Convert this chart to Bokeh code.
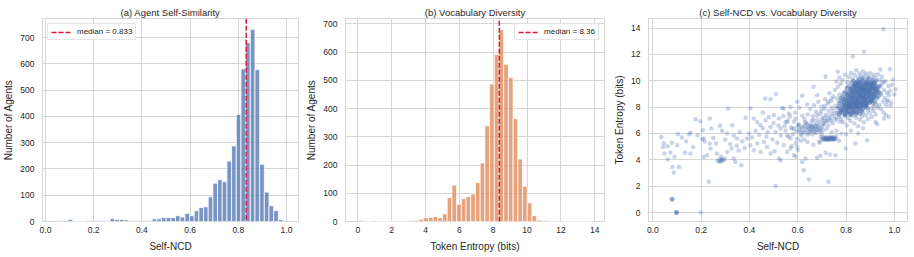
from bokeh.plotting import figure
from bokeh.layouts import row
from bokeh.models import FixedTicker, NumeralTickFormatter, Range1d
from bokeh.embed import file_html
from bokeh.resources import INLINE

FONT = "Liberation Sans"
TXT = "#262626"
GRID = "#d6d6d6"
BLUE = "#4C72B0"
ORANGE = "#DD8452"
RED = "#DC143C"

# ---------------- data ----------------
# (a) Self-NCD histogram: 50 bins between lo and hi
ncd_bin_lo, ncd_bin_hi = 0.035, 1.005
ncd_counts = [3, 3, 3, 8, 1, 1, 1, 3, 3, 3,
              4, 1, 11, 8, 8, 6, 3, 3, 3, 4,
              4, 10, 10, 15, 15, 15, 22, 17, 31, 22,
              41, 53, 56, 94, 146, 159, 151, 230, 288, 408,
              581, 681, 732, 578, 218, 112, 60, 42, 8, 4]
ncd_median = 0.833
ncd_legend = "median = 0.833"

# (b) Token entropy histogram: 50 bins between lo and hi
ent_bin_lo, ent_bin_hi = 0.0, 13.9
ent_counts = [4, 0, 0, 2, 0, 0, 0, 1, 2, 1,
              2, 3, 4, 8, 14, 15, 18, 14, 27, 85,
              129, 61, 81, 88, 97, 138, 207, 339, 487, 592,
              679, 557, 510, 364, 221, 125, 66, 21, 5, 4,
              2, 1, 1, 1, 0, 0, 0, 0, 0, 1]
ent_median = 8.36
ent_legend = "median = 8.36"

# (c) scatter: (Self-NCD, Token Entropy)
tail_pts = [
    (0.035, 5.74), (0.046, 5.26), (0.043, 4.98), (0.062, 5.03), (0.079, 5.29), (0.101, 5.11),
    (0.104, 5.95), (0.156, 6.05), (0.138, 5.41), (0.133, 4.53), (0.073, 4.55), (0.048, 4.48),
    (0.062, 4.02), (0.090, 4.23), (0.081, 3.46), (0.109, 3.46), (0.087, 3.03), (0.167, 4.98),
    (0.156, 4.48), (0.204, 5.57), (0.211, 5.62), (0.177, 7.08), (0.197, 6.93), (0.236, 7.14),
    (0.207, 6.25), (0.242, 6.38), (0.278, 6.58), (0.287, 6.20), (0.308, 6.00), (0.329, 6.63),
    (0.335, 5.82), (0.349, 5.62), (0.360, 6.12), (0.262, 5.24), (0.239, 4.86), (0.225, 4.35),
    (0.211, 4.22), (0.236, 5.24), (0.266, 4.48), (0.283, 4.23), (0.268, 3.92), (0.275, 4.02),
    (0.281, 3.88), (0.287, 4.05), (0.293, 3.95), (0.299, 4.08), (0.284, 3.98), (0.277, 3.85),
    (0.335, 4.10), (0.342, 3.84), (0.366, 3.59), (0.308, 4.60), (0.326, 4.86), (0.347, 5.06),
    (0.370, 5.41), (0.390, 5.62), (0.398, 6.00), (0.404, 7.92), (0.312, 7.90), (0.384, 7.19),
    (0.418, 7.14), (0.432, 6.88), (0.446, 6.63), (0.467, 7.01), (0.480, 7.26), (0.487, 6.50),
    (0.501, 7.39), (0.508, 6.12), (0.522, 7.14), (0.529, 6.38), (0.542, 7.90), (0.549, 6.88),
    (0.563, 7.52), (0.556, 5.87), (0.570, 5.62), (0.577, 6.38), (0.591, 7.14), (0.598, 8.40),
    (0.604, 6.63), (0.611, 6.00), (0.404, 5.11), (0.418, 4.73), (0.432, 5.24), (0.446, 4.60),
    (0.460, 5.36), (0.473, 4.98), (0.487, 4.48), (0.504, 4.65), (0.522, 4.10), (0.529, 3.97),
    (0.542, 5.11), (0.556, 4.60), (0.570, 4.86), (0.584, 4.35), (0.598, 4.98), (0.592, 4.23),
    (0.618, 3.84), (0.632, 4.10), (0.625, 3.21), (0.646, 2.50), (0.508, 2.02), (0.727, 2.33),
    (0.232, 2.33), (0.680, 4.15), (0.694, 4.30), (0.715, 4.53), (0.733, 4.40), (0.756, 4.35),
    (0.798, 4.86), (0.839, 5.24), (0.887, 5.49), (0.922, 6.88), (0.957, 7.14), (0.977, 7.26),
    (0.984, 8.10), (0.487, 8.60), (0.510, 9.00), (0.465, 8.65), (0.535, 7.94), (0.570, 8.02),
    (0.618, 8.86), (0.639, 8.20), (0.665, 9.54), (0.680, 8.90), (0.715, 10.30), (0.766, 10.68),
    (0.828, 11.87), (0.874, 12.20), (0.954, 13.92), (0.942, 10.86), (0.981, 10.88), (0.994, 10.10),
    (1.005, 9.36), (1.000, 8.96), (0.970, 8.40),
    (0.080, 1.00), (0.080, 1.00), (0.080, 1.00),
    (0.098, 0.00), (0.098, 0.00), (0.098, 0.00), (0.098, 0.00), (0.199, 0.00),
    (0.120, 5.70), (0.150, 5.95), (0.185, 5.85), (0.215, 5.40), (0.250, 5.65), (0.300, 5.55),
    (0.320, 5.20), (0.355, 4.70), (0.380, 4.90), (0.410, 5.70), (0.425, 6.20), (0.440, 5.90),
    (0.455, 6.40), (0.470, 5.75), (0.495, 5.55), (0.515, 5.30), (0.530, 5.85), (0.545, 6.55),
    (0.455, 7.60), (0.475, 6.10), (0.500, 6.80), (0.520, 6.60), (0.540, 7.30), (0.560, 7.00),
]

mid_pts = [
    (0.550, 6.20), (0.556, 6.85), (0.562, 5.75), (0.568, 7.30), (0.573, 6.45), (0.579, 5.95),
    (0.584, 6.90), (0.589, 7.60), (0.594, 6.15), (0.598, 5.60), (0.603, 6.70), (0.607, 7.95),
    (0.611, 6.30), (0.615, 5.85), (0.619, 7.35), (0.623, 6.05), (0.627, 5.55), (0.631, 6.55),
    (0.636, 6.25), (0.640, 5.90), (0.645, 6.45), (0.650, 6.10), (0.655, 6.65), (0.660, 5.95),
    (0.664, 6.35), (0.669, 6.20), (0.673, 6.50), (0.678, 6.05), (0.682, 6.30), (0.686, 6.60),
    (0.690, 6.15), (0.695, 6.40), (0.700, 5.95), (0.705, 6.25), (0.640, 6.70), (0.660, 6.55),
    (0.675, 6.75), (0.655, 6.30), (0.630, 6.85), (0.612, 5.45), (0.592, 5.25), (0.575, 5.05),
    (0.600, 4.75), (0.640, 5.35), (0.665, 5.15), (0.690, 5.30), (0.600, 6.55), (0.585, 6.35),
    (0.700, 5.60), (0.705, 5.68), (0.709, 5.55), (0.713, 5.72), (0.716, 5.62), (0.720, 5.50),
    (0.723, 5.66), (0.727, 5.58), (0.730, 5.74), (0.733, 5.53), (0.736, 5.64), (0.739, 5.70),
    (0.742, 5.57), (0.745, 5.65), (0.748, 5.52), (0.751, 5.69), (0.754, 5.61), (0.757, 5.56),
    (0.711, 5.64), (0.718, 5.70), (0.725, 5.52), (0.731, 5.62), (0.737, 5.55), (0.744, 5.72),
    (0.750, 5.60), (0.706, 5.52), (0.722, 5.60), (0.734, 5.68), (0.746, 5.58), (0.715, 5.57),
    (0.690, 5.40), (0.760, 5.80), (0.770, 5.45), (0.695, 5.75), (0.780, 6.00), (0.800, 5.95),
    (0.760, 6.20), (0.740, 6.10), (0.720, 6.35), (0.820, 6.20), (0.850, 6.00), (0.870, 6.40),
    (0.605, 6.22), (0.617, 6.41), (0.624, 6.12), (0.633, 6.37), (0.643, 6.04), (0.649, 6.57),
    (0.654, 6.21), (0.662, 6.47), (0.669, 6.08), (0.677, 6.33), (0.683, 6.51), (0.693, 6.24),
    (0.701, 6.55), (0.709, 6.76), (0.714, 6.93), (0.726, 7.06), (0.731, 7.34), (0.743, 7.47),
    (0.747, 7.73), (0.702, 7.02), (0.713, 7.21), (0.727, 6.62), (0.737, 6.97), (0.754, 7.12),
    (0.664, 7.04), (0.681, 7.38), (0.697, 7.72), (0.711, 8.08), (0.726, 8.43), (0.741, 8.66),
]

halo_pts = [
    (0.620, 6.55), (0.628, 7.10), (0.635, 6.80), (0.641, 7.45), (0.648, 6.35), (0.652, 7.85),
    (0.658, 6.95), (0.663, 7.30), (0.667, 8.15), (0.672, 6.60), (0.676, 7.65), (0.681, 7.05),
    (0.685, 8.40), (0.690, 6.85), (0.694, 7.50), (0.698, 8.05), (0.702, 7.20), (0.706, 6.70),
    (0.710, 7.85), (0.713, 8.60), (0.717, 7.40), (0.721, 6.95), (0.724, 8.25), (0.728, 7.70),
    (0.731, 9.05), (0.735, 7.15), (0.738, 8.45), (0.741, 7.95), (0.745, 6.80), (0.748, 8.80),
    (0.751, 7.35), (0.754, 9.30), (0.757, 8.10), (0.760, 7.05), (0.763, 8.65), (0.766, 9.55),
    (0.769, 7.25), (0.772, 8.95), (0.775, 6.90), (0.778, 9.75),
    (0.760, 9.95), (0.772, 10.25), (0.785, 10.05), (0.795, 10.45), (0.805, 9.90), (0.812, 10.30),
    (0.820, 10.60), (0.827, 10.15), (0.835, 10.45), (0.842, 10.80), (0.848, 10.25), (0.855, 10.55),
    (0.862, 10.35), (0.870, 10.70), (0.876, 10.40), (0.884, 10.55), (0.892, 10.30), (0.900, 10.60),
    (0.908, 10.25), (0.916, 10.45), (0.924, 10.20), (0.932, 10.50), (0.940, 10.05), (0.948, 10.30),
    (0.955, 9.95),
    (0.942, 9.55), (0.946, 8.95), (0.950, 9.80), (0.953, 8.40), (0.957, 9.30), (0.960, 8.70),
    (0.963, 9.95), (0.966, 8.15), (0.969, 9.10), (0.972, 8.55), (0.975, 9.60), (0.978, 8.90),
    (0.982, 9.25), (0.986, 8.35), (0.990, 9.70), (0.945, 7.85), (0.955, 7.60), (0.965, 7.40),
    (0.930, 7.95), (0.938, 8.15),
    (0.780, 7.10), (0.788, 6.85), (0.796, 7.30), (0.803, 6.60), (0.810, 7.15), (0.818, 6.95),
    (0.826, 7.35), (0.834, 6.75), (0.842, 7.20), (0.850, 6.55), (0.858, 7.05), (0.866, 7.30),
    (0.874, 6.85), (0.882, 7.40), (0.890, 7.10), (0.898, 7.55), (0.906, 7.25), (0.914, 7.70),
    (0.922, 7.45), (0.928, 6.70), (0.870, 7.55), (0.890, 7.75), (0.905, 7.90), (0.915, 8.05),
    (0.925, 8.20),
]

core_pts = [
    (0.762, 7.55), (0.771, 7.42), (0.778, 7.68), (0.785, 7.51), (0.792, 7.63), (0.799, 7.45),
    (0.804, 7.58), (0.811, 7.70), (0.816, 7.48), (0.822, 7.61), (0.828, 7.53), (0.834, 7.67),
    (0.840, 7.44), (0.846, 7.59), (0.852, 7.71), (0.858, 7.50), (0.781, 7.74), (0.795, 7.40),
    (0.808, 7.66), (0.819, 7.43), (0.831, 7.75), (0.843, 7.62), (0.865, 7.68), (0.774, 7.60),
    (0.801, 7.72),
    (0.765, 7.92), (0.772, 8.05), (0.779, 7.83), (0.786, 7.98), (0.793, 8.10), (0.800, 7.87),
    (0.806, 8.02), (0.813, 7.94), (0.819, 8.08), (0.826, 7.81), (0.832, 7.97), (0.838, 8.12),
    (0.845, 7.89), (0.851, 8.03), (0.857, 7.95), (0.864, 8.09), (0.870, 7.85), (0.877, 8.00),
    (0.884, 8.11), (0.790, 7.80), (0.809, 8.13), (0.823, 7.90), (0.841, 8.06), (0.860, 7.82),
    (0.889, 7.96),
    (0.770, 8.31), (0.777, 8.44), (0.784, 8.22), (0.791, 8.37), (0.797, 8.50), (0.803, 8.27),
    (0.810, 8.41), (0.816, 8.19), (0.823, 8.35), (0.829, 8.48), (0.835, 8.24), (0.842, 8.39),
    (0.848, 8.53), (0.854, 8.29), (0.861, 8.43), (0.867, 8.21), (0.873, 8.36), (0.880, 8.49),
    (0.886, 8.26), (0.893, 8.40), (0.899, 8.33), (0.906, 8.47), (0.913, 8.28), (0.920, 8.42),
    (0.788, 8.52),
    (0.778, 8.68), (0.785, 8.81), (0.792, 8.62), (0.798, 8.76), (0.805, 8.90), (0.811, 8.66),
    (0.818, 8.83), (0.824, 8.58), (0.831, 8.72), (0.837, 8.87), (0.844, 8.64), (0.850, 8.79),
    (0.857, 8.93), (0.863, 8.70), (0.869, 8.85), (0.876, 8.61), (0.882, 8.75), (0.889, 8.89),
    (0.895, 8.67), (0.902, 8.82), (0.908, 8.59), (0.915, 8.74), (0.922, 8.88), (0.928, 8.69),
    (0.934, 8.80),
    (0.790, 9.05), (0.797, 9.18), (0.804, 9.00), (0.811, 9.13), (0.817, 9.27), (0.824, 9.03),
    (0.830, 9.16), (0.837, 9.30), (0.843, 9.08), (0.850, 9.22), (0.856, 8.98), (0.863, 9.11),
    (0.869, 9.25), (0.876, 9.02), (0.882, 9.15), (0.889, 9.29), (0.895, 9.06), (0.902, 9.20),
    (0.908, 8.97), (0.915, 9.10), (0.921, 9.24), (0.928, 9.04), (0.934, 9.17), (0.941, 9.08),
    (0.870, 9.33),
    (0.803, 9.45), (0.810, 9.58), (0.818, 9.40), (0.825, 9.53), (0.832, 9.67), (0.839, 9.43),
    (0.846, 9.56), (0.853, 9.70), (0.860, 9.47), (0.866, 9.61), (0.873, 9.38), (0.879, 9.51),
    (0.886, 9.65), (0.892, 9.42), (0.899, 9.55), (0.905, 9.69), (0.912, 9.46), (0.918, 9.59),
    (0.925, 9.37), (0.931, 9.50), (0.938, 9.63), (0.858, 9.36), (0.884, 9.74), (0.901, 9.33),
    (0.841, 9.72),
    (0.822, 9.85), (0.830, 10.00), (0.838, 9.80), (0.846, 9.94), (0.853, 10.08), (0.861, 9.83),
    (0.868, 9.97), (0.875, 10.12), (0.882, 9.88), (0.889, 10.03), (0.896, 9.79), (0.903, 9.93),
    (0.910, 10.06), (0.917, 9.84), (0.924, 9.98), (0.865, 10.18), (0.893, 10.20), (0.850, 9.76),
    (0.878, 9.78), (0.908, 9.77),
]

core_dense_pts = [
    (0.792, 8.18), (0.797, 7.95), (0.803, 8.24), (0.808, 8.05), (0.814, 8.29), (0.819, 7.99),
    (0.825, 8.15), (0.830, 8.27), (0.836, 8.02), (0.841, 8.20), (0.847, 7.93), (0.852, 8.12),
    (0.858, 8.26), (0.863, 8.06), (0.869, 8.19), (0.874, 8.30), (0.880, 8.08), (0.885, 8.22),
    (0.815, 8.10), (0.845, 8.28),
    (0.802, 8.45), (0.807, 8.62), (0.813, 8.34), (0.818, 8.55), (0.824, 8.69), (0.829, 8.41),
    (0.835, 8.58), (0.840, 8.33), (0.846, 8.50), (0.851, 8.66), (0.857, 8.38), (0.862, 8.57),
    (0.868, 8.71), (0.873, 8.46), (0.879, 8.63), (0.884, 8.35), (0.890, 8.54), (0.896, 8.68),
    (0.902, 8.44), (0.908, 8.60),
    (0.812, 8.95), (0.818, 8.78), (0.823, 9.07), (0.829, 8.88), (0.834, 9.02), (0.840, 8.74),
    (0.846, 8.93), (0.851, 9.09), (0.857, 8.81), (0.862, 8.99), (0.868, 8.72), (0.873, 8.91),
    (0.879, 9.05), (0.884, 8.79), (0.890, 8.97), (0.896, 9.10), (0.901, 8.84), (0.907, 9.00),
    (0.913, 8.76), (0.920, 8.95),
    (0.822, 9.35), (0.828, 9.18), (0.834, 9.46), (0.840, 9.27), (0.845, 9.40), (0.851, 9.13),
    (0.857, 9.33), (0.862, 9.48), (0.868, 9.21), (0.873, 9.38), (0.879, 9.12), (0.885, 9.30),
    (0.890, 9.44), (0.896, 9.19), (0.902, 9.36), (0.907, 9.49), (0.913, 9.24), (0.919, 9.41),
    (0.925, 9.16), (0.930, 9.32),
    (0.833, 9.62), (0.839, 9.85), (0.845, 9.55), (0.851, 9.78), (0.857, 9.90), (0.863, 9.58),
    (0.869, 9.74), (0.875, 9.53), (0.881, 9.68), (0.887, 9.86), (0.893, 9.60), (0.899, 9.80),
    (0.905, 9.57), (0.911, 9.72), (0.917, 9.88), (0.923, 9.66),
]

ncd_xticks = [0.0, 0.2, 0.4, 0.6, 0.8, 1.0]
count_yticks = [0, 100, 200, 300, 400, 500, 600, 700]
ent_xticks = [0, 2, 4, 6, 8, 10, 12, 14]
ent_yticks = [0, 2, 4, 6, 8, 10, 12, 14]

# ---------------- layout ----------------
H = 257
TOP, BOTTOM = 18, 36


def edges(lo, hi, n):
    w = (hi - lo) / n
    return [lo + i * w for i in range(n + 1)]


def make_fig(width, left, right, xr, yr, xticks, yticks, title, xlabel, ylabel, xfmt=None):
    p = figure(width=width, height=H, x_range=Range1d(*xr), y_range=Range1d(*yr),
               output_backend="svg", toolbar_location=None,
               min_border_left=left, min_border_right=right,
               min_border_top=TOP, min_border_bottom=BOTTOM)
    p.background_fill_color = "white"
    p.border_fill_color = "white"
    p.outline_line_color = GRID
    p.outline_line_width = 1
    p.title.text = title
    p.title.align = "center"
    p.title.text_font = FONT
    p.title.text_font_size = "9.5px"
    p.title.text_font_style = "normal"
    p.title.text_color = TXT
    p.title.standoff = 2
    for ax in (p.xaxis, p.yaxis):
        ax.axis_line_color = None
        ax.major_tick_line_color = None
        ax.minor_tick_line_color = None
        ax.major_tick_out = 0
        ax.major_tick_in = 0
        ax.minor_tick_out = 0
        ax.minor_tick_in = 0
        ax.major_label_text_font = FONT
        ax.major_label_text_font_size = "8.5px"
        ax.major_label_text_color = TXT
        ax.axis_label_text_font = FONT
        ax.axis_label_text_font_size = "10px"
        ax.axis_label_text_font_style = "normal"
        ax.axis_label_text_color = TXT
    p.xaxis.axis_label = xlabel
    p.yaxis.axis_label = ylabel
    p.xaxis.ticker = FixedTicker(ticks=xticks)
    p.yaxis.ticker = FixedTicker(ticks=yticks)
    if xfmt:
        p.xaxis.formatter = NumeralTickFormatter(format=xfmt)
    p.xaxis.major_label_standoff = 5
    p.yaxis.major_label_standoff = 8
    p.xaxis.axis_label_standoff = 5
    p.yaxis.axis_label_standoff = 3
    p.xgrid.grid_line_color = GRID
    p.ygrid.grid_line_color = GRID
    p.xgrid.grid_line_width = 1
    p.ygrid.grid_line_width = 1
    return p


def style_legend(p, loc):
    lg = p.legend[0]
    lg.location = loc
    lg.margin = 5
    lg.padding = 3
    lg.spacing = 0
    lg.glyph_width = 20
    lg.glyph_height = 8
    lg.label_height = 8
    lg.label_standoff = 6
    lg.label_text_font = FONT
    lg.label_text_font_size = "8px"
    lg.label_text_color = TXT
    lg.border_line_color = "#cccccc"
    lg.border_line_width = 1
    lg.background_fill_alpha = 0.85


# (a)
pa = make_fig(300, 42, 2, (-0.01245, 1.0498), (0, 773), ncd_xticks, count_yticks,
              "(a) Agent Self-Similarity", "Self-NCD", "Number of Agents", "0.0")
ea = edges(ncd_bin_lo, ncd_bin_hi, len(ncd_counts))
pa.quad(left=ea[:-1], right=ea[1:], bottom=0, top=ncd_counts, fill_color=BLUE,
        fill_alpha=0.75, line_color="white", line_width=0.8)
pa.line(x=[ncd_median, ncd_median], y=[-100, 2000], line_color=RED, line_width=1.5,
        line_dash="5 2", legend_label=ncd_legend)
style_legend(pa, "top_left")

# (b)
pb = make_fig(307, 45, 3, (-0.7265, 14.572), (0, 718.8), ent_xticks, count_yticks,
              "(b) Vocabulary Diversity", "Token Entropy (bits)", "Number of Agents")
eb = edges(ent_bin_lo, ent_bin_hi, len(ent_counts))
pb.quad(left=eb[:-1], right=eb[1:], bottom=0, top=ent_counts, fill_color=ORANGE,
        fill_alpha=0.75, line_color="white", line_width=0.8)
pb.line(x=[ent_median, ent_median], y=[-100, 2000], line_color=RED, line_width=1.5,
        line_dash="5 2", legend_label=ent_legend)
style_legend(pb, "top_right")

# (c)
pc = make_fig(307, 41, 7, (-0.0178, 1.0542), (-0.683, 14.73), ncd_xticks, ent_yticks,
              "(c) Self-NCD vs. Vocabulary Diversity", "Self-NCD", "Token Entropy (bits)", "0.0")
for pts, a in ((tail_pts, 0.3), (mid_pts, 0.3), (halo_pts, 0.3), (core_pts, 0.5),
               (core_dense_pts, 0.55)):
    pc.scatter(x=[q[0] for q in pts], y=[q[1] for q in pts], size=4.5,
               fill_color=BLUE, fill_alpha=a, line_color=None)

layout = row(pa, pb, pc)
open("out.html", "w").write(file_html(layout, INLINE))
